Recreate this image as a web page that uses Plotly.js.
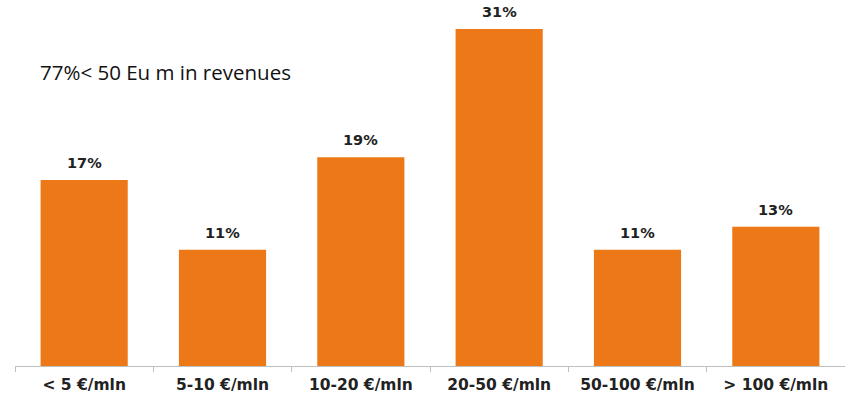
<!DOCTYPE html>
<html>
<head>
<meta charset="utf-8">
<script src="https://cdn.plot.ly/plotly-3.0.1.min.js"></script>
<style>html,body{margin:0;padding:0;background:#fff;}#chart{width:845px;height:399px;}</style>
</head>
<body>
<div id="chart"></div>
<script>
const categories = ["< 5 €/mln", "5-10 €/mln", "10-20 €/mln", "20-50 €/mln", "50-100 €/mln", "> 100 €/mln"];
const shares = [17.1, 10.7, 19.2, 31, 10.7, 12.8];
const shareLabels = ["17%", "11%", "19%", "31%", "11%", "13%"];
const note = "77%< 50 Eu m in revenues";

const trace = {
  type: "bar",
  x: categories,
  y: shares,
  marker: {color: "#ED7817"},
  hoverinfo: "none"
};

const labelFont = {family: "DejaVu Sans", size: 14.5, color: "#222", weight: "bold"};

const valueAnnotations = categories.map((c, i) => ({
  x: c, y: shares[i], xref: "x", yref: "y",
  text: shareLabels[i], showarrow: false,
  xanchor: "center", yanchor: "bottom", yshift: 7,
  font: labelFont
}));

const layout = {
  width: 845, height: 399,
  margin: {l: 15, r: 0, t: 0, b: 33},
  paper_bgcolor: "#fff", plot_bgcolor: "#fff",
  bargap: 0.37,
  showlegend: false,
  xaxis: {
    type: "category",
    showline: true, linecolor: "#BFBFBF", linewidth: 1,
    ticks: "outside", tickson: "boundaries", ticklen: 5, tickcolor: "#BFBFBF",
    ticklabelstandoff: 4,
    tickfont: {family: "DejaVu Sans", size: 15.5, color: "#222", weight: "bold"},
    showgrid: false, zeroline: false, fixedrange: true
  },
  yaxis: {
    range: [0, 33.67],
    visible: false, showgrid: false, zeroline: false, fixedrange: true
  },
  annotations: valueAnnotations.concat([{
    text: note,
    xref: "paper", yref: "paper",
    x: 23/830, y: (366-72)/366,
    xanchor: "left", yanchor: "middle",
    showarrow: false,
    font: {family: "Open Sans", size: 20.5, color: "#111"}
  }])
};

Plotly.newPlot("chart", [trace], layout, {displayModeBar: false, staticPlot: true});
</script>
</body>
</html>
